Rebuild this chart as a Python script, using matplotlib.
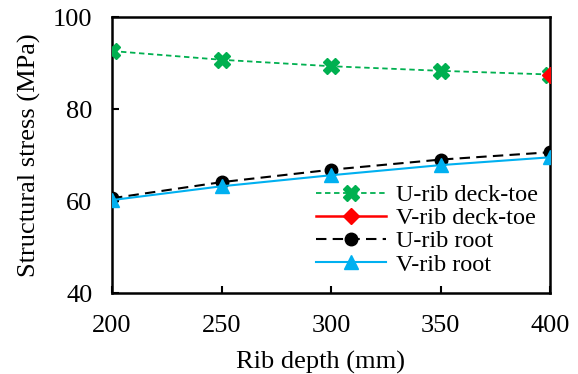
import matplotlib
matplotlib.use("Agg")
import matplotlib.pyplot as plt

depth = [200, 250, 300, 350, 400]
u_deck = [92.6, 90.7, 89.3, 88.3, 87.5]
v_deck_x = [400]
v_deck = [87.5]
u_root = [60.6, 64.1, 66.8, 69.0, 70.6]
v_root = [60.2, 63.2, 65.6, 67.8, 69.5]

plt.rcParams['font.family'] = ['Liberation Serif']
fig = plt.figure(figsize=(5.78, 3.74), dpi=100)
ax = fig.add_axes([112/578, 1-293/374, (550-112)/578, (293-17)/374])

ax.plot(depth, u_deck, linestyle=(0, (3, 2)), color='#00B050', lw=1.3, marker='X',
        markersize=12, markerfacecolor='#00B050', markeredgecolor='#00B050', label='U-rib deck-toe', zorder=3)
ax.plot(v_deck_x, v_deck, linestyle='-', color='#FF0000', lw=1.8, marker='D',
        markersize=8, label='V-rib deck-toe', zorder=4)
ax.plot(depth, u_root, linestyle=(0, (5, 3)), color='black', lw=1.5, marker='o',
        markersize=9, label='U-rib root', zorder=3)
ax.plot(depth, v_root, linestyle='-', color='#00B0F0', lw=1.5, marker='^',
        markersize=10, label='V-rib root', zorder=3)

ax.set_xlim(200, 400)
ax.set_ylim(40, 100)
ax.set_xticks([200, 250, 300, 350, 400])
ax.set_yticks([40, 60, 80, 100])
ax.tick_params(direction='in', length=5, width=1.5, labelsize=19)
ax.tick_params(axis='x', pad=16)
ax.tick_params(axis='y', pad=14)
for s in ax.spines.values():
    s.set_linewidth(1.8)
ax.set_xlabel('Rib depth (mm)', fontsize=19)
ax.xaxis.set_label_coords(0.475, -0.21)
ax.set_ylabel('Structural stress (MPa)', fontsize=19)
ax.yaxis.set_label_coords(-0.161, 0.5)

ax.legend(loc='upper left', bbox_to_anchor=(316/578, 1-184/374), bbox_transform=fig.transFigure,
          frameon=False, fontsize=17.5, handlelength=2.9, labelspacing=0.05,
          handletextpad=0.4, borderpad=0, borderaxespad=0)

fig.savefig('out.png', dpi=100)
